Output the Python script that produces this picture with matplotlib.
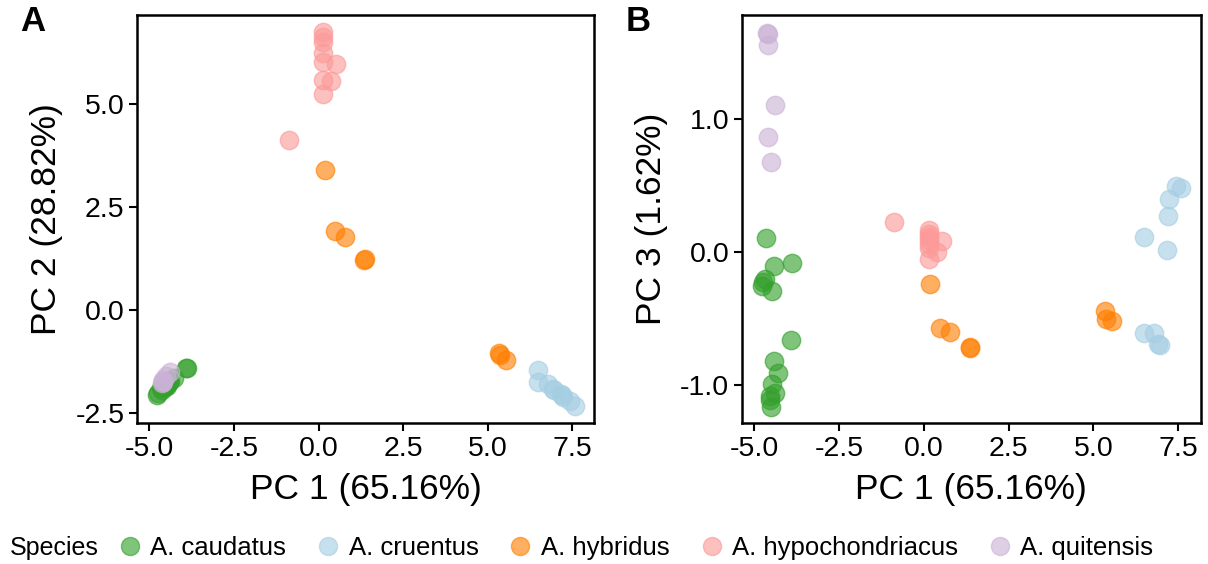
import matplotlib
matplotlib.use("Agg")
import matplotlib.pyplot as plt
from matplotlib.ticker import FormatStrFormatter
from matplotlib.lines import Line2D

plt.rcParams["font.family"] = ["Liberation Sans", "DejaVu Sans"]
plt.rcParams["axes.unicode_minus"] = False

species = ["A. caudatus", "A. cruentus", "A. hybridus", "A. hypochondriacus", "A. quitensis"]
colors = ["#33a02c", "#a6cee3", "#ff7f00", "#fb9a99", "#cab2d6"]

# principal component scores per species
caudatus_pc1 = [-4.64, -3.90, -3.92, -4.41, -4.67, -4.75, -4.78, -4.49, -4.42, -4.29, -4.49, -4.39, -4.54, -4.51, -4.55]
caudatus_pc2 = [-1.95, -1.41, -1.42, -1.72, -1.90, -2.02, -2.07, -1.85, -1.75, -1.66, -1.80, -1.74, -1.86, -1.84, -1.88]
caudatus_pc3 = [0.11, -0.08, -0.66, -0.105, -0.20, -0.22, -0.25, -0.29, -0.82, -0.91, -0.99, -1.06, -1.11, -1.16, -1.08]

cruentus_pc1 = [6.50, 6.50, 6.80, 6.92, 6.96, 7.17, 7.20, 7.24, 7.45, 7.58]
cruentus_pc2 = [-1.46, -1.76, -1.80, -1.92, -1.96, -2.05, -2.08, -2.12, -2.22, -2.33]
cruentus_pc3 = [0.115, -0.61, -0.61, -0.69, -0.70, 0.015, 0.27, 0.40, 0.50, 0.48]

hybridus_pc1 = [0.18, 0.49, 0.78, 1.35, 1.37, 5.35, 5.38, 5.55]
hybridus_pc2 = [3.38, 1.90, 1.76, 1.21, 1.23, -1.05, -1.10, -1.23]
hybridus_pc3 = [-0.24, -0.57, -0.60, -0.71, -0.72, -0.44, -0.50, -0.52]

hypo_pc1 = [-0.87, 0.53, 0.38, 0.14, 0.14, 0.14, 0.14, 0.14, 0.14, 0.14]
hypo_pc2 = [4.11, 5.97, 5.54, 6.74, 6.62, 6.50, 6.23, 6.01, 5.57, 5.23]
hypo_pc3 = [0.23, 0.085, 0.0, 0.165, 0.14, 0.115, 0.09, 0.065, 0.03, -0.05]

quitensis_pc1 = [-4.62, -4.60, -4.59, -4.40, -4.60, -4.52]
quitensis_pc2 = [-1.78, -1.75, -1.72, -1.52, -1.70, -1.62]
quitensis_pc3 = [1.65, 1.64, 1.56, 1.11, 0.87, 0.68]

pc1 = [caudatus_pc1, cruentus_pc1, hybridus_pc1, hypo_pc1, quitensis_pc1]
pc2 = [caudatus_pc2, cruentus_pc2, hybridus_pc2, hypo_pc2, quitensis_pc2]
pc3 = [caudatus_pc3, cruentus_pc3, hybridus_pc3, hypo_pc3, quitensis_pc3]

xticks = [-5.0, -2.5, 0.0, 2.5, 5.0, 7.5]
pc2_ticks = [-2.5, 0.0, 2.5, 5.0]
pc3_ticks = [-1.0, 0.0, 1.0]

fig = plt.figure(figsize=(12.08, 5.64), dpi=100)
ax_a = fig.add_axes([0.1134, 0.25, 0.3787, 0.7234])
ax_b = fig.add_axes([0.6140, 0.25, 0.3798, 0.7234])

ALPHA = 0.62
SIZE = 175


def style_axes(ax, ylabel, yticks, ylim):
    ax.set_xlim(-5.37, 8.16)
    ax.set_ylim(*ylim)
    ax.set_xticks(xticks)
    ax.set_yticks(yticks)
    ax.xaxis.set_major_formatter(FormatStrFormatter("%.1f"))
    ax.yaxis.set_major_formatter(FormatStrFormatter("%.1f"))
    ax.tick_params(labelsize=20.5, length=6, width=1.5, colors="black", pad=3)
    for s in ax.spines.values():
        s.set_linewidth(1.8)
    ax.set_xlabel("PC 1 (65.16%)", fontsize=25.5, labelpad=8)
    ax.set_ylabel(ylabel, fontsize=25.5, labelpad=9)


for i in range(len(species)):
    ax_a.scatter(pc1[i], pc2[i], s=SIZE, color=colors[i], alpha=ALPHA, linewidths=1, edgecolors=colors[i])
    ax_b.scatter(pc1[i], pc3[i], s=SIZE, color=colors[i], alpha=ALPHA, linewidths=1, edgecolors=colors[i])

style_axes(ax_a, "PC 2 (28.82%)", pc2_ticks, (-2.75, 7.15))
style_axes(ax_b, "PC 3 (1.62%)", pc3_ticks, (-1.283, 1.784))

fig.text(0.017, 0.961, "A", fontsize=25, fontweight="bold", va="center")
fig.text(0.518, 0.961, "B", fontsize=25, fontweight="bold", va="center")

# legend along the bottom
handles = [Line2D([], [], marker="o", linestyle="", markersize=13, color=c,
                  alpha=ALPHA, markeredgewidth=1) for c in colors]
fig.text(0.008, 0.028, "Species", fontsize=18, va="center")
fig.legend(handles, species, loc="center left", bbox_to_anchor=(0.083, 0.028),
           ncol=5, frameon=False, fontsize=18.5, handletextpad=0.05,
           columnspacing=0.88, borderaxespad=0, handlelength=1.5)

fig.savefig("out.png", dpi=100)
